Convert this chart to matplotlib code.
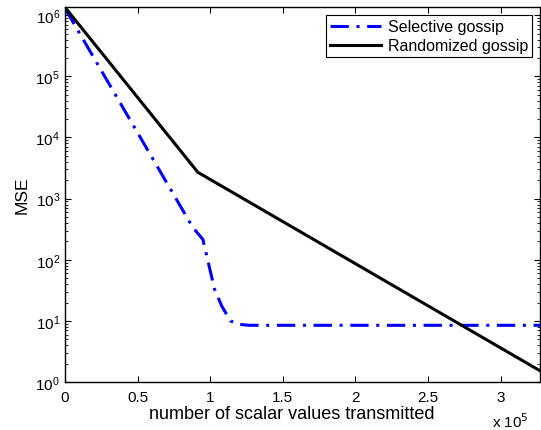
import numpy as np
import matplotlib
matplotlib.use('Agg')
import matplotlib.pyplot as plt
from matplotlib.ticker import LogLocator, NullFormatter

plt.rcParams['font.family'] = ['Liberation Sans', 'DejaVu Sans']

# x values in units of 1e5 scalar values
sel_x = [0, 0.88, 0.95, 1.03, 1.08, 1.14, 1.20, 1.27, 3.3]
sel_mse = [1.3e6, 340, 215, 33, 17.5, 10, 8.8, 8.5, 8.5]

rand_x = [0, 0.915, 3.3]
rand_mse = [1.35e6, 2700, 1.4]

x_ticks = [0, 0.5, 1, 1.5, 2, 2.5, 3]
x_ticklabels = ['0', '0.5', '1', '1.5', '2', '2.5', '3']
y_ticks = [1, 10, 1e2, 1e3, 1e4, 1e5, 1e6]

fig = plt.figure(figsize=(5.41, 4.31), dpi=100)
ax = fig.add_axes([0.120, 0.111, 0.878, 0.870])

ax.semilogy(sel_x, sel_mse, color='blue', linestyle=(0, (6, 2.5, 1, 2.5)),
            linewidth=2.2, label='Selective gossip')
ax.semilogy(rand_x, rand_mse, color='black', linewidth=2.2,
            label='Randomized gossip')

ax.set_xlim(0, 3.27)
ax.set_ylim(1, 1.35e6)
ax.set_xticks(x_ticks)
ax.set_xticklabels(x_ticklabels)
ax.set_yticks(y_ticks)
ax.yaxis.set_minor_locator(LogLocator(base=10, subs=np.arange(2, 10), numticks=20))
ax.yaxis.set_minor_formatter(NullFormatter())
ax.tick_params(which='both', direction='in', top=True, right=True, labelsize=11)
ax.tick_params(which='major', length=4)
ax.tick_params(which='minor', length=2)
ax.tick_params(axis='x', pad=6)

ax.set_xlabel('number of scalar values transmitted', fontsize=13)
ax.xaxis.set_label_coords(0.478, -0.062)
ax.set_ylabel('MSE', fontsize=12.5, labelpad=4)
fig.text(492 / 541, 1 - 422 / 431, r'x 10$^5$', fontsize=11, ha='left', va='center')

leg = ax.legend(loc='upper right', fontsize=11.5, fancybox=False, framealpha=1,
                edgecolor='black', handlelength=3.2, borderaxespad=0.5,
                borderpad=0.25, labelspacing=0.25, handletextpad=0.4)
leg.get_frame().set_linewidth(0.8)

for s in ax.spines.values():
    s.set_linewidth(1.0)

fig.savefig('out.png', dpi=100)
